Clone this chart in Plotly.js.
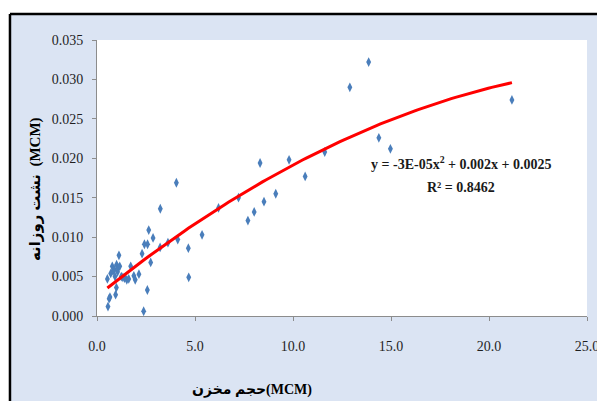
<!DOCTYPE html>
<html>
<head>
<meta charset="utf-8">
<script src="https://cdn.plot.ly/plotly-3.0.1.min.js"></script>
<style>
  html, body { margin: 0; padding: 0; background: #ffffff; }
  #chart { width: 597px; height: 401px; }
</style>
</head>
<body>
<div id="chart"></div>
<script>
// Reservoir volume (MCM) against daily seepage (MCM)
const volume = [0.53, 0.56, 0.62, 0.66, 0.70, 0.78, 0.82, 0.88, 0.92, 0.95,
                0.99, 1.00, 1.05, 1.07, 1.12, 1.16, 1.24, 1.32, 1.41, 1.52,
                1.62, 1.72, 1.88, 1.95, 2.14, 2.30, 2.38, 2.42, 2.57, 2.58,
                2.64, 2.74, 2.86, 3.22, 3.23, 3.62, 4.05, 4.12, 4.66, 4.68,
                5.36, 6.20, 7.22, 7.70, 8.02, 8.32, 8.52, 9.12, 9.80, 10.62,
                11.62, 12.90, 13.86, 14.38, 14.97, 21.17];
const seepage = [0.0047, 0.0012, 0.0022, 0.0024, 0.0054, 0.0063, 0.0057, 0.0059, 0.0050, 0.0027,
                 0.0036, 0.0065, 0.0056, 0.0061, 0.0077, 0.0063, 0.0050, 0.0049, 0.0048, 0.0046,
                 0.0047, 0.0063, 0.0051, 0.0046, 0.0053, 0.0079, 0.0006, 0.0091, 0.0033, 0.0091,
                 0.0109, 0.0068, 0.0099, 0.0087, 0.0136, 0.0093, 0.0169, 0.0097, 0.0086, 0.0049,
                 0.0103, 0.0137, 0.0150, 0.0121, 0.0132, 0.0194, 0.0145, 0.0155, 0.0198, 0.0177,
                 0.0208, 0.0290, 0.0322, 0.0226, 0.0212, 0.0274];

// Second-order polynomial trend: y = a*x^2 + b*x + c
const trendCoef = [-3.45e-5, 0.00201, 0.0025];
const trendRange = [0.53, 21.17];

const xTicks = [0, 5, 10, 15, 20, 25];
const xTickText = ['0.0', '5.0', '10.0', '15.0', '20.0', '25.0'];
const yTicks = [0, 0.005, 0.010, 0.015, 0.020, 0.025, 0.030, 0.035];
const yTickText = ['0.000', '0.005', '0.010', '0.015', '0.020', '0.025', '0.030', '0.035'];

const xTitle = 'حجم مخزن(MCM)';
const yTitle = 'نشت روزانه  (MCM)';
const eqText = 'y = -3E-05x<sup>2</sup> + 0.002x + 0.0025';
const r2Text = 'R² = 0.8462';

// Sample the trend curve across the data range
const trendX = [];
const trendY = [];
const steps = 120;
for (let i = 0; i <= steps; i++) {
  const x = trendRange[0] + (trendRange[1] - trendRange[0]) * i / steps;
  trendX.push(x);
  trendY.push(trendCoef[0] * x * x + trendCoef[1] * x + trendCoef[2]);
}

const serif = 'Liberation Serif, Times New Roman, DejaVu Sans, serif';
const bg = '#dbe4f3';

const traces = [
  {
    x: volume, y: seepage, type: 'scatter', mode: 'markers',
    marker: { symbol: 'diamond-tall', size: 7, color: '#4a7ebb' },
    hoverinfo: 'x+y', showlegend: false
  },
  {
    x: trendX, y: trendY, type: 'scatter', mode: 'lines',
    line: { color: '#ff0000', width: 3 },
    hoverinfo: 'skip', showlegend: false
  }
];

const axisCommon = {
  showgrid: false, zeroline: false, showline: true,
  linecolor: '#8c8c8c', linewidth: 1,
  ticks: 'outside', ticklen: 4, tickcolor: '#8c8c8c', tickwidth: 1,
  tickfont: { family: serif, size: 14, color: '#1f1f1f' },
  ticklabeloverflow: 'allow',
  fixedrange: true
};

const layout = {
  width: 597, height: 401,
  margin: { l: 97, r: 10, t: 40, b: 85 },
  paper_bgcolor: bg,
  plot_bgcolor: '#ffffff',
  xaxis: Object.assign({}, axisCommon, {
    range: [0, 25], tickvals: xTicks, ticktext: xTickText,
    ticklabelstandoff: 13
  }),
  yaxis: Object.assign({}, axisCommon, {
    range: [0, 0.035], tickvals: yTicks, ticktext: yTickText,
    ticklabelstandoff: 6
  }),
  shapes: [
    // white strip above and to the left of the chart frame
    { type: 'rect', xref: 'paper', yref: 'paper', x0: -0.25, x1: 1.1, y0: 1.0942, y1: 1.2,
      fillcolor: '#ffffff', line: { width: 0 }, layer: 'below' },
    { type: 'rect', xref: 'paper', yref: 'paper', x0: -0.25, x1: -0.1776, y0: -0.4, y1: 1.2,
      fillcolor: '#ffffff', line: { width: 0 }, layer: 'below' },
    // frame edges
    { type: 'line', xref: 'paper', yref: 'paper', x0: -0.1776, x1: 1.1, y0: 1.0942, y1: 1.0942,
      line: { color: '#000000', width: 2.5 } },
    { type: 'line', xref: 'paper', yref: 'paper', x0: -0.1776, x1: -0.1776, y0: -0.4, y1: 1.0942,
      line: { color: '#000000', width: 2.5 } }
  ],
  annotations: [
    { text: eqText, xref: 'paper', yref: 'paper', x: 0.743, y: 0.554,
      xanchor: 'center', yanchor: 'middle', showarrow: false,
      font: { family: serif, size: 14, color: '#1a1a1a', weight: 'bold' } },
    { text: r2Text, xref: 'paper', yref: 'paper', x: 0.743, y: 0.467,
      xanchor: 'center', yanchor: 'middle', showarrow: false,
      font: { family: serif, size: 14, color: '#1a1a1a', weight: 'bold' } },
    { text: xTitle, xref: 'paper', yref: 'paper', x: 0.316, y: -0.268,
      xanchor: 'center', yanchor: 'middle', showarrow: false,
      font: { family: serif, size: 14, color: '#000000', weight: 'bold' } },
    { text: yTitle, xref: 'paper', yref: 'paper', x: -0.1265, y: 0.46,
      xanchor: 'center', yanchor: 'middle', showarrow: false, textangle: -90,
      font: { family: serif, size: 15, color: '#000000', weight: 'bold' } }
  ]
};

Plotly.newPlot('chart', traces, layout, { displayModeBar: false, staticPlot: true });
</script>
</body>
</html>
